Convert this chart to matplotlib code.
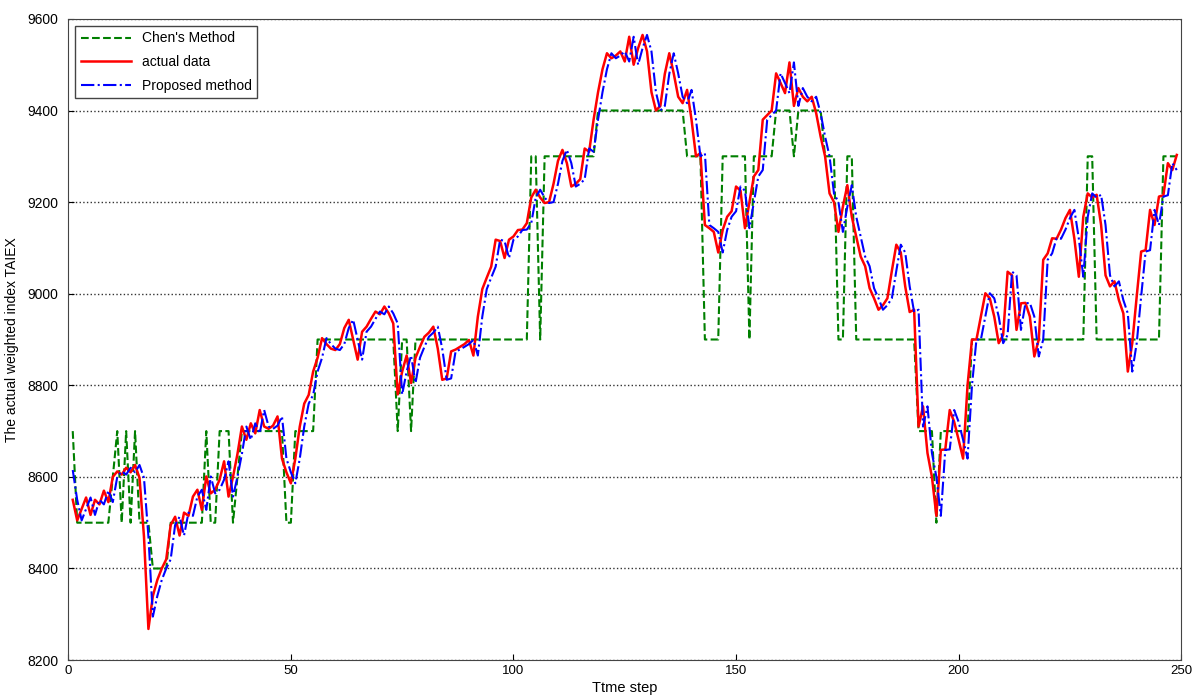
import numpy as np
import matplotlib
matplotlib.use("Agg")
import matplotlib.pyplot as plt

plt.rcParams['font.family'] = ['Liberation Sans', 'DejaVu Sans']

# time steps 1..249
steps = np.arange(1, 250)

actual = [
    8550, 8505, 8530, 8555, 8517, 8550, 8540, 8570, 8545, 8600,
    8612, 8605, 8620, 8610, 8626, 8598, 8470, 8268, 8340, 8375,
    8400, 8420, 8495, 8513, 8472, 8522, 8515, 8557, 8572, 8528,
    8601, 8564, 8572, 8594, 8634, 8557, 8600, 8650, 8710, 8681,
    8717, 8695, 8746, 8710, 8705, 8712, 8732, 8640, 8610, 8586,
    8640, 8710, 8760, 8779, 8830, 8860, 8903, 8890, 8880, 8877,
    8890, 8925, 8943, 8900, 8856, 8917, 8928, 8945, 8961, 8955,
    8972, 8957, 8935, 8780, 8830, 8865, 8805, 8860, 8884, 8906,
    8915, 8928, 8880, 8812, 8815, 8874, 8878, 8884, 8890, 8899,
    8865, 8950, 9010, 9035, 9059, 9118, 9115, 9078, 9118, 9125,
    9139, 9140, 9154, 9210, 9227, 9210, 9198, 9200, 9240, 9290,
    9314, 9285, 9234, 9240, 9250, 9317, 9310, 9380, 9440, 9490,
    9525, 9514, 9520, 9529, 9507, 9561, 9500, 9536, 9565, 9529,
    9440, 9400, 9410, 9480, 9525, 9481, 9430, 9416, 9445, 9380,
    9300, 9307, 9150, 9143, 9135, 9090, 9139, 9168, 9180, 9234,
    9225, 9143, 9200, 9256, 9270, 9380, 9390, 9400, 9481, 9460,
    9438, 9505, 9410, 9449, 9430, 9420, 9430, 9394, 9343, 9300,
    9219, 9200, 9135, 9190, 9237, 9168, 9125, 9081, 9060, 9012,
    8990, 8965, 8975, 8990, 9050, 9107, 9090, 9016, 8960, 8965,
    8710, 8754, 8652, 8600, 8515, 8659, 8660, 8746, 8720, 8681,
    8640, 8800, 8900, 8900, 8950, 9001, 8990, 8950, 8892, 8910,
    9048, 9040, 8921, 8979, 8980, 8950, 8863, 8900, 9074, 9088,
    9121, 9120, 9140, 9165, 9183, 9120, 9037, 9168, 9219, 9210,
    9216, 9150, 9040, 9016, 9027, 8986, 8957, 8830, 8892, 8994,
    9092, 9095, 9183, 9150, 9212, 9215, 9285, 9270, 9303,
]

proposed = [
    8615, 8550, 8505, 8530, 8555, 8517, 8550, 8540, 8570, 8545,
    8600, 8612, 8605, 8620, 8610, 8626, 8598, 8470, 8295, 8340,
    8375, 8400, 8420, 8495, 8513, 8472, 8522, 8515, 8557, 8572,
    8528, 8601, 8564, 8572, 8594, 8634, 8557, 8600, 8650, 8710,
    8681, 8717, 8695, 8746, 8710, 8705, 8712, 8732, 8640, 8610,
    8586, 8640, 8710, 8760, 8779, 8830, 8860, 8903, 8890, 8880,
    8877, 8890, 8925, 8943, 8900, 8856, 8917, 8928, 8945, 8961,
    8955, 8972, 8957, 8935, 8780, 8830, 8865, 8805, 8860, 8884,
    8906, 8915, 8928, 8880, 8812, 8815, 8874, 8878, 8884, 8890,
    8899, 8865, 8950, 9010, 9035, 9059, 9118, 9115, 9078, 9118,
    9125, 9139, 9140, 9154, 9210, 9227, 9210, 9198, 9200, 9240,
    9290, 9314, 9285, 9234, 9240, 9250, 9317, 9310, 9380, 9440,
    9490, 9525, 9514, 9520, 9529, 9507, 9561, 9500, 9536, 9565,
    9529, 9440, 9400, 9410, 9480, 9525, 9481, 9430, 9416, 9445,
    9380, 9300, 9307, 9150, 9143, 9135, 9090, 9139, 9168, 9180,
    9234, 9225, 9143, 9200, 9256, 9270, 9380, 9390, 9400, 9481,
    9460, 9438, 9505, 9410, 9449, 9430, 9420, 9430, 9394, 9343,
    9300, 9219, 9200, 9135, 9190, 9237, 9168, 9125, 9081, 9060,
    9012, 8990, 8965, 8975, 8990, 9050, 9107, 9090, 9016, 8960,
    8965, 8710, 8754, 8652, 8600, 8515, 8659, 8660, 8746, 8720,
    8681, 8640, 8800, 8900, 8900, 8950, 9001, 8990, 8950, 8892,
    8910, 9048, 9040, 8921, 8979, 8980, 8950, 8863, 8900, 9074,
    9088, 9121, 9120, 9140, 9165, 9183, 9120, 9037, 9168, 9219,
    9210, 9216, 9150, 9040, 9016, 9027, 8986, 8957, 8830, 8892,
    8994, 9092, 9095, 9183, 9150, 9212, 9215, 9285, 9270,
]

chen = [
    8700, 8500, 8500, 8500, 8500, 8500, 8500, 8500, 8500, 8600,
    8700, 8500, 8700, 8500, 8700, 8500, 8500, 8500, 8400, 8400,
    8400, 8400, 8500, 8500, 8500, 8500, 8500, 8500, 8500, 8500,
    8700, 8500, 8500, 8700, 8700, 8700, 8500, 8600, 8700, 8700,
    8700, 8700, 8700, 8700, 8700, 8700, 8700, 8700, 8500, 8500,
    8700, 8700, 8700, 8700, 8700, 8900, 8900, 8900, 8900, 8900,
    8900, 8900, 8900, 8900, 8900, 8900, 8900, 8900, 8900, 8900,
    8900, 8900, 8900, 8700, 8900, 8900, 8700, 8900, 8900, 8900,
    8900, 8900, 8900, 8900, 8900, 8900, 8900, 8900, 8900, 8900,
    8900, 8900, 8900, 8900, 8900, 8900, 8900, 8900, 8900, 8900,
    8900, 8900, 8900, 9300, 9300, 8900, 9300, 9300, 9300, 9300,
    9300, 9300, 9300, 9300, 9300, 9300, 9300, 9300, 9400, 9400,
    9400, 9400, 9400, 9400, 9400, 9400, 9400, 9400, 9400, 9400,
    9400, 9400, 9400, 9400, 9400, 9400, 9400, 9400, 9300, 9300,
    9300, 9300, 8900, 8900, 8900, 8900, 9300, 9300, 9300, 9300,
    9300, 9300, 8900, 9300, 9300, 9300, 9300, 9300, 9400, 9400,
    9400, 9400, 9300, 9400, 9400, 9400, 9400, 9400, 9400, 9300,
    9300, 9300, 8900, 8900, 9300, 9300, 8900, 8900, 8900, 8900,
    8900, 8900, 8900, 8900, 8900, 8900, 8900, 8900, 8900, 8900,
    8700, 8700, 8700, 8700, 8500, 8700, 8700, 8700, 8700, 8700,
    8700, 8700, 8900, 8900, 8900, 8900, 8900, 8900, 8900, 8900,
    8900, 8900, 8900, 8900, 8900, 8900, 8900, 8900, 8900, 8900,
    8900, 8900, 8900, 8900, 8900, 8900, 8900, 8900, 9300, 9300,
    8900, 8900, 8900, 8900, 8900, 8900, 8900, 8900, 8900, 8900,
    8900, 8900, 8900, 8900, 8900, 9300, 9300, 9300, 9300,
]

fig = plt.figure(figsize=(11.98, 7.0), dpi=100)
ax = fig.add_axes([0.057, 0.057, 0.929, 0.916])

ax.plot(steps, chen, color='#007f00', linestyle='--', linewidth=1.5, label="Chen's Method")
ax.plot(steps, actual, color='#ff0000', linestyle='-', linewidth=1.8, label='actual data')
ax.plot(steps, proposed, color='#0000ff', linestyle='-.', linewidth=1.5, label='Proposed method')

ax.set_xlim(0, 250)
ax.set_ylim(8200, 9600)
ax.set_xticks(np.arange(0, 251, 50))
ax.set_yticks(np.arange(8200, 9601, 200))
ax.tick_params(direction='in', labelsize=9.5, length=4)
ax.tick_params(axis='y', labelsize=10, pad=7)
ax.yaxis.grid(True, linestyle=':', color='#333333', linewidth=1.0)
for s in ax.spines.values():
    s.set_color('#444444')

ax.set_xlabel('Ttme step', fontsize=10.5, labelpad=3)
ax.set_ylabel('The actual weighted index TAIEX', fontsize=10, labelpad=6)

leg = ax.legend(loc='upper left', fontsize=10, fancybox=False, edgecolor='#444444',
                borderaxespad=0.5, handlelength=3.6, labelspacing=0.7, framealpha=1)
leg.get_frame().set_linewidth(1.0)

fig.savefig('out.png', dpi=100)
